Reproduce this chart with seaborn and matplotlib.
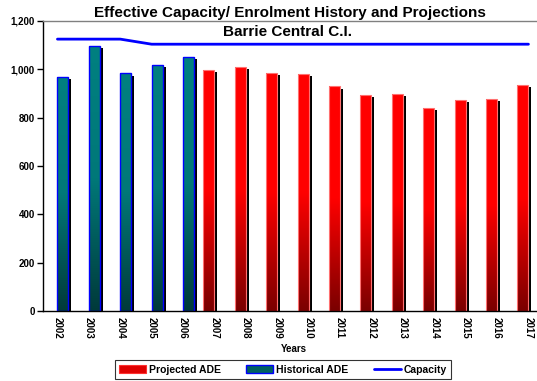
import numpy as np
import pandas as pd
import matplotlib
matplotlib.use("Agg")
import matplotlib.pyplot as plt
import matplotlib.patheffects as pe
from matplotlib.patches import Patch, Rectangle
from matplotlib.lines import Line2D
from matplotlib.colors import LinearSegmentedColormap
from matplotlib.ticker import FuncFormatter
import seaborn as sns

# ---- data ----
years = [2002, 2003, 2004, 2005, 2006, 2007, 2008, 2009, 2010,
         2011, 2012, 2013, 2014, 2015, 2016, 2017]
historical_ade = [970, 1095, 983, 1019, 1051, None, None, None, None,
                  None, None, None, None, None, None, None]
projected_ade = [None, None, None, None, None, 998, 1009, 984, 981,
                 929, 894, 897, 842, 874, 876, 934]
capacity = [1125, 1125, 1125, 1104, 1104, 1104, 1104, 1104, 1104,
            1104, 1104, 1104, 1104, 1104, 1104, 1104]
y_ticks = [0, 200, 400, 600, 800, 1000, 1200]

sns.set_style("white")
plt.rcParams["font.family"] = ["Liberation Sans", "DejaVu Sans"]
plt.rcParams["font.weight"] = "bold"
for key in ("text.color", "axes.labelcolor", "xtick.color", "ytick.color"):
    plt.rcParams[key] = "black"

series_order = ["Projected ADE", "Historical ADE"]
df = pd.DataFrame({
    "year": [str(y) for y in years] * 2,
    "ade": [np.nan if v is None else v for v in projected_ade]
           + [np.nan if v is None else v for v in historical_ade],
    "series": ["Projected ADE"] * len(years) + ["Historical ADE"] * len(years),
})

fig = plt.figure(figsize=(5.37, 3.81), dpi=100)
ax = fig.add_axes([43 / 537, 1 - 311 / 381, 502.4 / 537, 290 / 381])

palette = {"Projected ADE": "#ff0000", "Historical ADE": "#008080"}
sns.barplot(data=df, x="year", y="ade", hue="series", hue_order=series_order,
            order=[str(y) for y in years], palette=palette, width=0.7,
            errorbar=None, saturation=1, legend=False, ax=ax)

# gradient fills, drop shadows and outlines on the bars
grad = {
    "#ff0000": LinearSegmentedColormap.from_list("r", ["#7a0000", "#ff0000", "#ff0000"]),
    "#008080": LinearSegmentedColormap.from_list("t", ["#003a3a", "#007878", "#008080"]),
}
edge = {"#ff0000": ("#ff7070", 0.8), "#008080": ("#0000ff", 1.0)}
ramp = np.linspace(0, 1, 256).reshape(-1, 1)
for bar in list(ax.patches):
    h = bar.get_height()
    if not np.isfinite(h) or h <= 0:
        continue
    fc = matplotlib.colors.to_hex(bar.get_facecolor())
    key = "#ff0000" if fc == "#ff0000" else "#008080"
    x0, w = bar.get_x(), bar.get_width()
    bar.set_edgecolor("none")
    bar.set_path_effects([pe.SimplePatchShadow(offset=(2.2, -1.5),
                                               shadow_rgbFace="black", alpha=1.0),
                          pe.Normal()])
    im = ax.imshow(ramp, cmap=grad[key], aspect="auto", origin="lower",
                   extent=(x0, x0 + w, 0, h), zorder=bar.get_zorder() + 0.1)
    im.set_clip_path(bar)
    ec, lw = edge[key]
    ax.add_patch(Rectangle((x0, 0), w, h, fill=False, edgecolor=ec,
                           linewidth=lw, zorder=bar.get_zorder() + 0.2))

# capacity line through category centres
ax.plot(np.arange(len(years)), capacity, color="#0000ff", linewidth=2.0,
        zorder=5)

ax.set_xlim(-0.46, len(years) - 0.46)
ax.set_ylim(0, 1200)
ax.set_yticks(y_ticks)
ax.yaxis.set_major_formatter(FuncFormatter(lambda v, p: f"{int(v):,}"))
ax.tick_params(axis="y", which="major", direction="out", length=4, width=1,
               color="black", labelsize=7, pad=2, left=True)
ax.tick_params(axis="x", which="major", length=0, labelsize=7, pad=4,
               labelrotation=-90)
for lab in ax.get_xticklabels() + ax.get_yticklabels():
    lab.set_fontweight("bold")

ax.set_xlabel("Years", fontsize=7, fontweight="bold", labelpad=4)
ax.set_ylabel("")

for side in ("left", "bottom"):
    ax.spines[side].set_color("black")
    ax.spines[side].set_linewidth(1.0)
ax.spines["top"].set_color("#808080")
ax.spines["top"].set_linewidth(1.0)
ax.spines["right"].set_visible(False)

fig.text(0.54, 1 - 13 / 381, "Effective Capacity/ Enrolment History and Projections",
         ha="center", va="center", fontsize=11, fontweight="bold")
fig.text(0.535, 1 - 32 / 381, "Barrie Central C.I.",
         ha="center", va="center", fontsize=11, fontweight="bold")

handles = [
    Patch(facecolor="#e00000", edgecolor="#ff3030", linewidth=0.8),
    Patch(facecolor="#006060", edgecolor="#0000ff", linewidth=1.0),
    Line2D([0], [0], color="#0000ff", linewidth=2.0),
]
leg = fig.legend(handles, ["Projected ADE", "Historical ADE", "Capacity"],
                 loc="lower center", bbox_to_anchor=(0.527, 0.003), ncol=3,
                 frameon=True, fancybox=False, fontsize=7.5, columnspacing=2.4,
                 handlelength=2.6, handleheight=0.8, borderpad=0.4,
                 handletextpad=0.3, borderaxespad=0.1)
leg.get_frame().set_edgecolor("black")
leg.get_frame().set_linewidth(0.8)
for t in leg.get_texts():
    t.set_fontweight("bold")

fig.savefig("out.png", dpi=100)
